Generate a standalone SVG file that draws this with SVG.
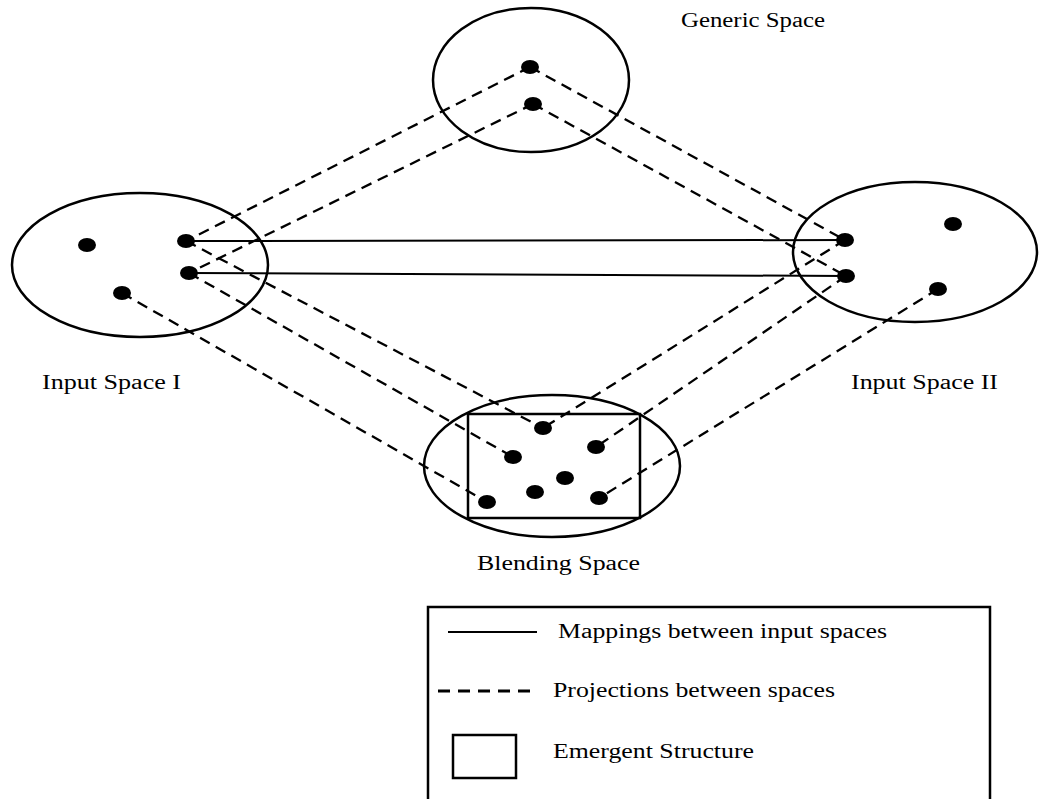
<svg xmlns="http://www.w3.org/2000/svg" width="1043" height="799" viewBox="0 0 1043 799">
<style>
.space{fill:none;stroke:#000;stroke-width:2.5}
.dot{fill:#000}
.map{stroke:#000;stroke-width:2;fill:none}
.proj{stroke:#000;stroke-width:2.3;stroke-dasharray:11 7;fill:none}
.lbl{font-family:"Liberation Serif","Times New Roman",serif;font-size:20px;fill:#000}
.box{fill:none;stroke:#000;stroke-width:2.5}
</style>
<rect width="1043" height="799" fill="#fff"/>
<g id="connectors">
  <line class="proj" x1="530" y1="67" x2="186" y2="241"/>
  <line class="proj" x1="533" y1="104" x2="189" y2="273"/>
  <line class="proj" x1="530" y1="67" x2="845" y2="240"/>
  <line class="proj" x1="533" y1="104" x2="846" y2="276"/>
  <line class="proj" x1="186" y1="241" x2="543" y2="428"/>
  <line class="proj" x1="189" y1="273" x2="513" y2="457"/>
  <line class="proj" x1="122" y1="293" x2="487" y2="502"/>
  <line class="proj" x1="845" y1="240" x2="543" y2="428"/>
  <line class="proj" x1="846" y1="276" x2="596" y2="447"/>
  <line class="proj" x1="938" y1="289" x2="599" y2="498"/>
  <line class="map" x1="186" y1="241" x2="845" y2="240"/>
  <line class="map" x1="189" y1="273" x2="846" y2="276"/>
</g>
<g id="generic-space">
  <ellipse class="space" cx="531" cy="80" rx="98" ry="72"/>
  <ellipse class="dot" cx="530" cy="67" rx="9" ry="7"/>
  <ellipse class="dot" cx="533" cy="104" rx="9" ry="7"/>
  <text class="lbl" x="681" y="27" textLength="144" lengthAdjust="spacingAndGlyphs">Generic Space</text>
</g>
<g id="input-space-1">
  <ellipse class="space" cx="140" cy="265" rx="128" ry="72"/>
  <ellipse class="dot" cx="87" cy="245" rx="9" ry="7"/>
  <ellipse class="dot" cx="186" cy="241" rx="9" ry="7"/>
  <ellipse class="dot" cx="189" cy="273" rx="9" ry="7"/>
  <ellipse class="dot" cx="122" cy="293" rx="9" ry="7"/>
  <text class="lbl" x="42" y="389" textLength="139" lengthAdjust="spacingAndGlyphs">Input Space I</text>
</g>
<g id="input-space-2">
  <ellipse class="space" cx="915" cy="252" rx="122" ry="70"/>
  <ellipse class="dot" cx="845" cy="240" rx="9" ry="7"/>
  <ellipse class="dot" cx="846" cy="276" rx="9" ry="7"/>
  <ellipse class="dot" cx="953" cy="224" rx="9" ry="7"/>
  <ellipse class="dot" cx="938" cy="289" rx="9" ry="7"/>
  <text class="lbl" x="851" y="389" textLength="147" lengthAdjust="spacingAndGlyphs">Input Space II</text>
</g>
<g id="blending-space">
  <ellipse class="space" cx="552" cy="466" rx="128" ry="71"/>
  <rect class="box" x="468" y="414" width="172" height="104"/>
  <ellipse class="dot" cx="543" cy="428" rx="9" ry="7"/>
  <ellipse class="dot" cx="596" cy="447" rx="9" ry="7"/>
  <ellipse class="dot" cx="513" cy="457" rx="9" ry="7"/>
  <ellipse class="dot" cx="565" cy="478" rx="9" ry="7"/>
  <ellipse class="dot" cx="535" cy="492" rx="9" ry="7"/>
  <ellipse class="dot" cx="487" cy="502" rx="9" ry="7"/>
  <ellipse class="dot" cx="599" cy="498" rx="9" ry="7"/>
  <text class="lbl" x="477" y="570" textLength="163" lengthAdjust="spacingAndGlyphs">Blending Space</text>
</g>
<g id="legend">
  <polyline class="box" points="428,810 428,607 990,607 990,810"/>
  <line class="map" x1="448" y1="632" x2="537" y2="632"/>
  <text class="lbl" x="558" y="638" textLength="329" lengthAdjust="spacingAndGlyphs">Mappings between input spaces</text>
  <line class="proj" x1="438" y1="691" x2="537" y2="691" style="stroke-width:2.8;stroke-dasharray:12 8"/>
  <text class="lbl" x="553" y="697" textLength="282" lengthAdjust="spacingAndGlyphs">Projections between spaces</text>
  <rect class="box" x="453" y="735" width="63" height="43"/>
  <text class="lbl" x="553" y="758" textLength="201" lengthAdjust="spacingAndGlyphs">Emergent Structure</text>
</g>
</svg>
